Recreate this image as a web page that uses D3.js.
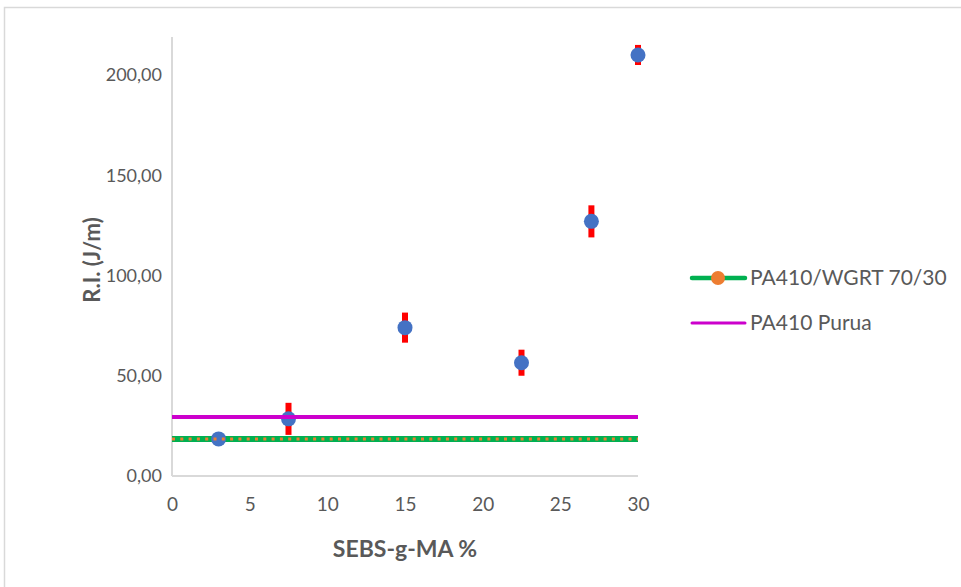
<!DOCTYPE html>
<html>
<head>
<meta charset="utf-8">
<script src="https://cdn.jsdelivr.net/npm/d3@7/dist/d3.min.js"></script>
<style>
  html, body { margin: 0; padding: 0; background: #fff; }
  svg { display: block; font-family: Lato, "Open Sans", sans-serif; }
</style>
</head>
<body>
<svg id="chart" width="961" height="587"></svg>
<script>
// SEBS-g-MA content (%) and measured impact resistance (J/m)
const sebsContent = [3, 7.5, 15, 22.5, 27, 30];
const impactRes   = [18.5, 28.5, 74, 56.5, 127, 210];
const impactErr   = [0, 8, 7.5, 6.5, 8, 5];

// Reference levels
const refNames  = ["PA410/WGRT 70/30", "PA410 Purua"];
const refValues = [18.5, 29.4];

const xTicks = [0, 5, 10, 15, 20, 25, 30];
const yTicks = [0, 50, 100, 150, 200];

const svg = d3.select("#chart");
const textColor = "#595959";
const axisColor = "#D9D9D9";

// outer chart-area border
svg.append("rect")
  .attr("x", 4.5).attr("y", 7.5)
  .attr("width", 970).attr("height", 600)
  .attr("fill", "none").attr("stroke", axisColor).attr("stroke-width", 1.5);

const x = d3.scaleLinear().domain([0, 30]).range([172, 638]);
const y = d3.scaleLinear().domain([0, 200]).range([476, 75]);
const yTop = 37;

// axes
const xAxis = d3.axisBottom(x).tickValues(xTicks).tickSize(0).tickPadding(22)
  .tickFormat(d3.format("d"));
const yAxis = d3.axisLeft(y).tickValues(yTicks).tickSize(0).tickPadding(10)
  .tickFormat(d => d3.format(".2f")(d).replace(".", ","));

const gx = svg.append("g").attr("transform", `translate(0,${y(0)})`).call(xAxis);
const gy = svg.append("g").attr("transform", `translate(${x(0)},0)`).call(yAxis);
gx.select(".domain").remove();
gy.select(".domain").remove();
gx.selectAll("text").attr("fill", textColor).style("font-size", "19px");
gy.selectAll("text").attr("fill", textColor).style("font-size", "18px");
[gx, gy].forEach(g => g.selectAll("text").style("font-family", "Lato, 'Open Sans', sans-serif"));

svg.append("line")
  .attr("x1", x(0)).attr("x2", x(0)).attr("y1", yTop).attr("y2", y(0))
  .attr("stroke", axisColor).attr("stroke-width", 2);
svg.append("line")
  .attr("x1", x(0)).attr("x2", x(30)).attr("y1", y(0)).attr("y2", y(0))
  .attr("stroke", axisColor).attr("stroke-width", 2);

// axis titles
svg.append("text")
  .attr("transform", `translate(100,260) rotate(-90)`)
  .attr("text-anchor", "middle")
  .attr("fill", textColor).style("font-size", "22px").style("font-weight", "bold")
  .text("R.I. (J/m)");
svg.append("text")
  .attr("x", (x(0) + x(30)) / 2).attr("y", 557)
  .attr("text-anchor", "middle")
  .attr("fill", textColor).style("font-size", "23px").style("font-weight", "bold")
  .text("SEBS-g-MA %");

const pts = sebsContent.map((v, i) => ({ x: v, y: impactRes[i], e: impactErr[i] }));

// error bars
svg.append("g").selectAll("line").data(pts.filter(d => d.e > 0)).join("line")
  .attr("x1", d => x(d.x)).attr("x2", d => x(d.x))
  .attr("y1", d => y(d.y + d.e)).attr("y2", d => y(d.y - d.e))
  .attr("stroke", "#FF0000").attr("stroke-width", 6);

// PA410/WGRT 70/30 reference: green line
svg.append("line")
  .attr("x1", x(0)).attr("x2", x(30))
  .attr("y1", y(refValues[0])).attr("y2", y(refValues[0]))
  .attr("stroke", "#00B050").attr("stroke-width", 6);

// data markers
svg.append("g").selectAll("circle").data(pts).join("circle")
  .attr("cx", d => x(d.x)).attr("cy", d => y(d.y)).attr("r", 7.5)
  .attr("fill", "#4472C4");

// PA410 Purua reference line
svg.append("line")
  .attr("x1", x(0)).attr("x2", x(30))
  .attr("y1", y(refValues[1])).attr("y2", y(refValues[1]))
  .attr("stroke", "#CC00CC").attr("stroke-width", 4);

// orange dotted overlay on the green reference
svg.append("line")
  .attr("x1", x(0)).attr("x2", x(30))
  .attr("y1", y(refValues[0])).attr("y2", y(refValues[0]))
  .attr("stroke", "#ED7D31").attr("stroke-width", 3)
  .attr("stroke-dasharray", "3,5.3");

// legend
const lg = svg.append("g");
const ly = [278, 323];
lg.append("line").attr("x1", 692).attr("x2", 745).attr("y1", ly[0]).attr("y2", ly[0])
  .attr("stroke", "#00B050").attr("stroke-width", 4.5).attr("stroke-linecap", "round");
lg.append("circle").attr("cx", 718).attr("cy", ly[0]).attr("r", 7).attr("fill", "#ED7D31");
lg.append("line").attr("x1", 692).attr("x2", 745).attr("y1", ly[1]).attr("y2", ly[1])
  .attr("stroke", "#CC00CC").attr("stroke-width", 3).attr("stroke-linecap", "round");
refNames.forEach((n, i) => {
  lg.append("text").attr("x", 750).attr("y", ly[i]).attr("dy", "0.35em")
    .attr("fill", textColor).style("font-size", "21px").text(n);
});
</script>
</body>
</html>
